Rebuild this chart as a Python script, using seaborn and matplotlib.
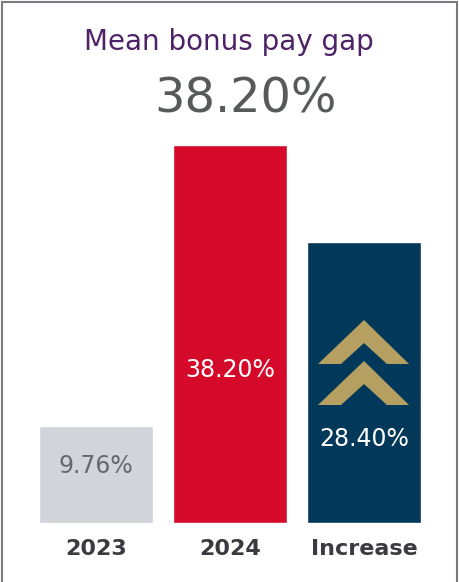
import matplotlib
matplotlib.use("Agg")
import matplotlib.pyplot as plt
import seaborn as sns
import pandas as pd
from matplotlib.patches import Rectangle, Polygon

categories = ["2023", "2024", "Increase"]
values = [9.76, 38.20, 28.40]
value_labels = ["9.76%", "38.20%", "28.40%"]
headline = "38.20%"
title = "Mean bonus pay gap"

bar_colors = ["#D1D5D9", "#D50A2A", "#02385A"]
label_colors = ["#65686C", "white", "white"]
label_y = [5.8, 15.5, 8.5]

sns.set_theme(style="white")
plt.rcParams["font.family"] = ["DejaVu Sans"]

W, H = 459, 582
fig = plt.figure(figsize=(W / 100, H / 100), dpi=100)
px_per_unit = 378 / 38.2
ax_left, ax_right = 29, 431
ax_bottom = 523
ylim_top = 45
ax_h = ylim_top * px_per_unit
ax = fig.add_axes([ax_left / W, (H - ax_bottom) / H, (ax_right - ax_left) / W, ax_h / H])

df = pd.DataFrame({"cat": categories, "val": values})
sns.barplot(data=df, x="cat", y="val", hue="cat", palette=bar_colors,
            width=0.85, legend=False, ax=ax, saturation=1)
ax.set_xlim(-0.5, 2.5)
ax.set_ylim(0, ylim_top)
ax.axis("off")

for i, (lab, c, y) in enumerate(zip(value_labels, label_colors, label_y)):
    ax.text(i, y, lab, ha="center", va="center", color=c, fontsize=17)

for i, cat in enumerate(categories):
    ax.text(i, -2.6, cat, ha="center", va="center", color="#3A3A40",
            fontsize=16, fontweight="bold")

# chevrons in the Increase bar (data coords)
def ypx(p):
    return (ax_bottom - p) / px_per_unit

def xpx(p):
    return (p - 364) / 134 + 2

gold = "#B5A061"
for apex in (320, 361):
    d = 44
    pts = [(xpx(364), ypx(apex)), (xpx(409), ypx(apex + d)), (xpx(387), ypx(apex + d)),
           (xpx(364), ypx(apex + 23)), (xpx(341), ypx(apex + d)), (xpx(318), ypx(apex + d))]
    ax.add_patch(Polygon(pts, closed=True, facecolor=gold, edgecolor="none", zorder=5))

fig.text(229 / W, 1 - 42 / H, title, ha="center", va="center", color="#4D2267", fontsize=20)
fig.text(246 / W, 1 - 99 / H, headline, ha="center", va="center", color="#58595B", fontsize=34.5)

fig.patches.append(Rectangle((2 / W, -0.01), 455 / W, 1 - 2 / H + 0.01,
                             transform=fig.transFigure, fill=False,
                             edgecolor="#7A7A7E", linewidth=1.5))

fig.savefig("out.png", dpi=100)
